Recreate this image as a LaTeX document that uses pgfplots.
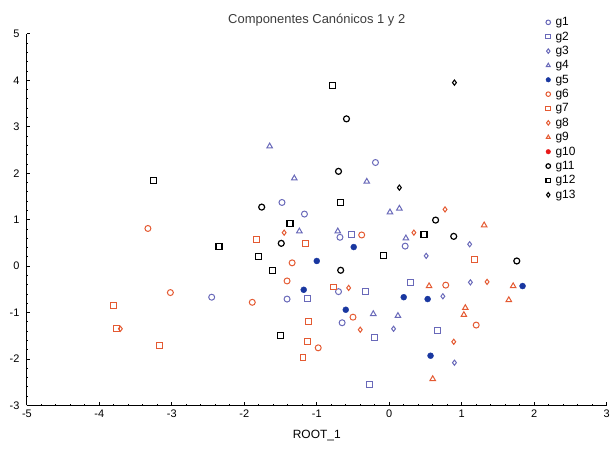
\documentclass[border=0pt]{standalone}
\usepackage{fontspec}
\setmainfont{Liberation Sans}
\usepackage{pgfplots}
\pgfplotsset{compat=1.18}

\definecolor{lav}{RGB}{105,105,185}
\definecolor{dblue}{RGB}{25,55,160}
\definecolor{orng}{RGB}{228,90,50}
\definecolor{rd}{RGB}{232,25,25}
\definecolor{ttl}{RGB}{60,60,60}

\begin{document}
\begin{tikzpicture}
\begin{axis}[
    scale only axis,
    width=582pt, height=373pt,
    xmin=-5, xmax=3, ymin=-3, ymax=5,
    axis lines=left,
    axis line style={-, line width=1pt},
    xtick={-5,...,3}, ytick={-3,...,5},
    minor tick num=4,
    tick align=inside,
    major tick length=3pt, minor tick length=1.5pt,
    tick style={black, line width=0.8pt},
    /pgf/number format/assume math mode=true,
    tick label style={font=\fontsize{11}{12}\selectfont},
    yticklabel style={xshift=-4pt},
    xticklabel style={yshift=-1pt},
    xlabel={ROOT\_1},
    xlabel style={font=\fontsize{12}{13}\selectfont, yshift=-6pt},
    title={Componentes Canónicos 1 y 2},
    title style={font=\fontsize{13}{14}\selectfont, text=ttl, yshift=-2pt},
    legend style={at={(rel axis cs:0.895,1.05)}, anchor=north west, draw=none, fill=none,
        font=\fontsize{12}{13}\selectfont, row sep=0.6pt, column sep=3pt, inner sep=0pt},
    legend image post style={mark size=2.3pt},
    legend cell align=left,
    clip=false,
]
% g1
\addplot[only marks, mark=o, mark size=3pt, lav, line width=1pt] coordinates {
(-0.19,2.23) (-1.48,1.37) (-1.17,1.12) (-0.68,0.62) (0.22,0.43) (-0.70,-0.55)
(-0.65,-1.22) (-2.45,-0.67) (-1.41,-0.71)};
\addlegendentry{g1}
% g2
\addplot[only marks, mark=square, mark size=3pt, lav, line width=1pt] coordinates {
(-0.52,0.68) (-1.13,-0.69) (-0.33,-0.54) (0.29,-0.35) (-0.21,-1.54) (0.66,-1.39) (-0.27,-2.55)};
\addlegendentry{g2}
% g3
\addplot[only marks, mark=diamond, mark size=2.6pt, lav, line width=1pt] coordinates {
(0.51,0.22) (0.74,-0.65) (0.06,-1.35) (0.90,-2.08) (1.12,-0.35) (1.11,0.47)};
\addlegendentry{g3}
% g4
\addplot[only marks, mark=triangle, mark size=3.2pt, lav, line width=1pt] coordinates {
(-1.65,2.58) (-1.31,1.89) (-1.24,0.75) (-0.71,0.75) (-0.31,1.82) (0.01,1.16)
(0.14,1.24) (0.23,0.60) (-0.22,-1.03) (0.12,-1.07)};
\addlegendentry{g4}
% g5
\addplot[only marks, mark=*, mark size=3pt, dblue, fill=dblue] coordinates {
(-0.49,0.41) (-1.00,0.11) (-1.18,-0.51) (-0.60,-0.94) (0.20,-0.67) (0.53,-0.71)
(0.57,-1.93) (1.84,-0.43)};
\addlegendentry{g5}
% g6
\addplot[only marks, mark=o, mark size=3pt, orng, line width=1pt] coordinates {
(-3.33,0.81) (-3.02,-0.57) (-1.89,-0.78) (-1.34,0.07) (-1.41,-0.32) (-0.38,0.67)
(0.78,-0.41) (-0.50,-1.10) (-0.98,-1.76) (1.20,-1.27)};
\addlegendentry{g6}
% g7
\addplot[only marks, mark=square, mark size=3pt, orng, line width=1pt] coordinates {
(-3.81,-0.84) (-3.77,-1.35) (-3.17,-1.70) (-1.83,0.57) (-1.15,0.49) (-0.77,-0.45)
(-1.11,-1.20) (-1.13,-1.63) (-1.19,-1.97) (1.17,0.15)};
\addlegendentry{g7}
% g8
\addplot[only marks, mark=diamond, mark size=2.6pt, orng, line width=1pt] coordinates {
(-3.71,-1.35) (-1.45,0.72) (0.77,1.22) (0.34,0.72) (-0.56,-0.47) (1.35,-0.34)
(-0.40,-1.37) (0.89,-1.63)};
\addlegendentry{g8}
% g9
\addplot[only marks, mark=triangle, mark size=3.2pt, orng, line width=1pt] coordinates {
(1.31,0.88) (0.55,-0.43) (1.71,-0.43) (1.65,-0.73) (1.05,-0.90) (1.03,-1.05) (0.60,-2.43)};
\addlegendentry{g9}
% g10 (no points visible in the chart)
\addlegendimage{only marks, mark=*, mark size=3pt, rd, fill=rd}
\addlegendentry{g10}
% g11
\addplot[only marks, mark=o, mark size=3pt, black, line width=1.2pt] coordinates {
(-1.76,1.27) (-1.49,0.49) (-0.59,3.17) (-0.70,2.04) (0.64,0.99) (0.89,0.64)
(-0.67,-0.09) (1.76,0.11)};
\addlegendentry{g11}
% g12
\addplot[only marks, mark=square, mark size=3pt, black, line width=1.2pt] coordinates {
(-3.25,1.85) (-2.35,0.43) (-1.80,0.20) (-1.61,-0.10) (-1.37,0.92) (-1.50,-1.50)
(-0.78,3.88) (-0.67,1.37) (0.48,0.68) (-0.08,0.22)};
\addlegendentry{g12}
% g13
\addplot[only marks, mark=diamond, mark size=2.6pt, black, line width=1.1pt] coordinates {
(0.90,3.95) (0.14,1.69)};
\addlegendentry{g13}
% page margins as in the reference
\path (rel axis cs:0,0) ++(-27pt,-46pt) (rel axis cs:1,1) ++(0pt,34pt);
\end{axis}
\end{tikzpicture}
\end{document}
